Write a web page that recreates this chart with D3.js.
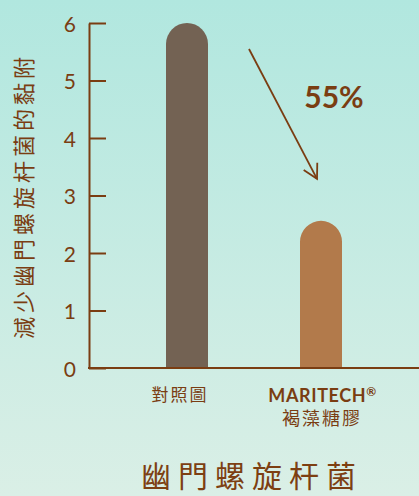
<!DOCTYPE html>
<html><head><meta charset="utf-8">
<script src="https://cdn.jsdelivr.net/npm/d3@7"></script>
<style>
html,body{margin:0;padding:0;overflow:hidden;}
svg{display:block;}
</style>
</head><body>
<svg id="chart" width="419" height="496"></svg>
<script>
const categories = ["對照圖", "MARITECH®|褐藻糖膠"];
const values = [6, 2.56];
const barColors = ["#736253", "#b27a4b"];
const yTicks = [0, 1, 2, 3, 4, 5, 6];
const yTitle = "減少幽門螺旋杆菌的黏附";
const chartTitle = "幽門螺旋杆菌";
const reductionLabel = "55%";

const W = 419, H = 496;
const brown = "#7a3d12";
const svg = d3.select("#chart");

const defs = svg.append("defs");
const grad = defs.append("linearGradient").attr("id","bg").attr("x1",0).attr("y1",0).attr("x2",0).attr("y2",1);
grad.append("stop").attr("offset","0%").attr("stop-color","#b1e7df");
grad.append("stop").attr("offset","100%").attr("stop-color","#daefe6");
svg.append("rect").attr("width",W).attr("height",H).attr("fill","url(#bg)");

const axisX = 89, baseY = 368, topY = 23;
const y = d3.scaleLinear().domain([0, 6]).range([baseY, topY]);
const x = d3.scaleBand().domain(categories).range([120, 388]).padding(0);
const barW = 42;

// bars with rounded tops
const g = svg.append("g");
g.selectAll("path.bar").data(values).join("path")
  .attr("class","bar")
  .attr("fill",(d,i)=>barColors[i])
  .attr("d",(d,i)=>{
    const cx = x(categories[i]) + x.bandwidth()/2;
    const x0 = cx - barW/2, x1 = cx + barW/2, r = barW/2;
    const t = y(d);
    return `M${x0},${baseY} L${x0},${t+r} A${r},${r} 0 0 1 ${x1},${t+r} L${x1},${baseY} Z`;
  });

// y axis
const yAxis = d3.axisLeft(y).tickValues(yTicks).tickSize(-17).tickSizeOuter(0).tickPadding(13).tickFormat(d3.format("d"));
const ya = svg.append("g").attr("transform",`translate(${axisX},0)`).call(yAxis);
ya.select(".domain").attr("stroke",brown).attr("stroke-width",2);
ya.selectAll(".tick line").attr("stroke",brown).attr("stroke-width",2);
ya.selectAll(".tick text").attr("fill",brown).attr("font-family","Lato, sans-serif")
  .attr("font-size",21).attr("dy","0.4em");

// x axis line
svg.append("line").attr("x1",axisX-1).attr("x2",W).attr("y1",baseY).attr("y2",baseY)
  .attr("stroke",brown).attr("stroke-width",2);

// x labels
const cjk = "'Noto Sans CJK TC', 'Noto Sans CJK SC', sans-serif";
const lab = svg.append("g");
lab.append("text").attr("x", x(categories[0]) + x.bandwidth()/2 - 7).attr("y", 401)
  .attr("text-anchor","middle").attr("fill",brown).attr("font-family",cjk)
  .attr("font-size",17).attr("letter-spacing",2).text(categories[0]);
const parts = categories[1].split("|");
const mt = lab.append("text").attr("x", x(categories[1]) + x.bandwidth()/2 + 1.5).attr("y", 402)
  .attr("text-anchor","middle").attr("fill",brown).attr("font-family","Lato, sans-serif")
  .attr("font-weight","bold").attr("font-size",18).attr("letter-spacing",0.6);
mt.append("tspan").text(parts[0].replace("®",""));
mt.append("tspan").attr("font-size",12).attr("dy",-6).text("®");
lab.append("text").attr("x", x(categories[1]) + x.bandwidth()/2 + 1).attr("y", 425)
  .attr("text-anchor","middle").attr("fill",brown).attr("font-family",cjk)
  .attr("font-size",18).attr("letter-spacing",2).text(parts[1]);

// y title
svg.append("text").attr("transform","translate(32,196) rotate(-90)")
  .attr("text-anchor","middle").attr("fill",brown).attr("font-family",cjk)
  .attr("font-size",22).attr("letter-spacing",4).text(yTitle);

// chart title
svg.append("text").attr("x",252).attr("y",487).attr("text-anchor","middle")
  .attr("fill","#7d3f12").attr("font-family",cjk).attr("font-size",30)
  .attr("letter-spacing",7).text(chartTitle);

// arrow from top of bar 1 region to bar 2
const ax0 = x(categories[0]) + x.bandwidth()/2 + 62, ay0 = y(values[0]) + 26;
const ax1 = x(categories[1]) + x.bandwidth()/2 - 4, ay1 = y(values[1]) - 42;
svg.append("line").attr("x1",ax0).attr("y1",ay0).attr("x2",ax1).attr("y2",ay1)
  .attr("stroke",brown).attr("stroke-width",1.8);
const ang = Math.atan2(ay1-ay0, ax1-ax0);
const hl = 16, ha = 0.5;
svg.append("path").attr("fill","none").attr("stroke",brown).attr("stroke-width",1.8)
  .attr("d",`M${ax1-hl*Math.cos(ang-ha)},${ay1-hl*Math.sin(ang-ha)} L${ax1},${ay1} L${ax1-hl*Math.cos(ang+ha)},${ay1-hl*Math.sin(ang+ha)}`);

svg.append("text").attr("x",334).attr("y",108).attr("text-anchor","middle")
  .attr("fill",brown).attr("font-family","Lato, sans-serif").attr("font-weight","bold")
  .attr("font-size",30).text(reductionLabel);
</script>
</body></html>
